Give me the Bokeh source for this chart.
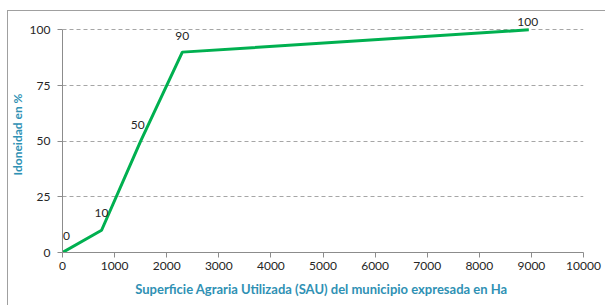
from bokeh.plotting import figure
from bokeh.models import ColumnDataSource, FixedTicker, Range1d
from bokeh.core.properties import value
from bokeh.embed import file_html
from bokeh.resources import INLINE

# data
sau_ha = [0, 750, 1500, 2300, 8950]
idoneidad = [0, 10, 50, 90, 100]
point_labels = ["0", "10", "50", "90", "100"]
x_ticks = [0, 1000, 2000, 3000, 4000, 5000, 6000, 7000, 8000, 9000, 10000]
y_ticks = [0, 25, 50, 75, 100]

x_title = "Superficie Agraria Utilizada (SAU) del municipio  expresada en Ha"
y_title = "Idoneidad en %"

FONT = "Lato"
TEAL = "#2f91b4"
GRAY = "#8c8c8c"

# label offsets (screen px, style only)
label_dx = [4, 0, -3, 0, -1]
label_dy = [-17, -17, -16, -16, -8]

src = ColumnDataSource(dict(x=sau_ha, y=idoneidad, lab=point_labels,
                            dx=label_dx, dy=label_dy))

bg = ("linear-gradient(#a0a0a0,#a0a0a0) 7px 10px / 1px 100% no-repeat, "
      "linear-gradient(#a0a0a0,#a0a0a0) 7px 10px / 100% 1px no-repeat, white")

p = figure(width=605, height=305, output_backend="svg", toolbar_location=None,
           x_range=Range1d(0, 10000), y_range=Range1d(0, 106),
           min_border_left=62, min_border_right=22, min_border_top=16,
           min_border_bottom=53, styles={"background": bg})
p.outline_line_color = None
p.border_fill_color = None
p.background_fill_color = "white"

p.line("x", "y", source=src, line_color="#00b050", line_width=3)
p.text("x", "y", text="lab", source=src, x_offset="dx", y_offset="dy",
       text_align="center", text_baseline="middle",
       text_font=value(FONT), text_font_size="12px", text_color="#262626")

p.xaxis.ticker = FixedTicker(ticks=x_ticks)
p.yaxis.ticker = FixedTicker(ticks=y_ticks)
p.yaxis.bounds = (0, 100)
p.xgrid.visible = False
p.ygrid.ticker = FixedTicker(ticks=[25, 50, 75, 100])
p.ygrid.grid_line_color = "#a6a6a6"
p.ygrid.grid_line_dash = "4 3"
p.ygrid.grid_line_width = 1

for ax in (p.xaxis, p.yaxis):
    ax.axis_line_color = GRAY
    ax.major_tick_line_color = GRAY
    ax.major_tick_out = 5
    ax.major_tick_in = 0
    ax.minor_tick_line_color = None
    ax.major_label_text_font = FONT
    ax.major_label_text_font_size = "12px"
    ax.major_label_text_color = "#262626"
    ax.axis_label_text_font = FONT
    ax.axis_label_text_font_style = "bold"
    ax.axis_label_text_color = TEAL
    ax.axis_label_text_font_size = "13px"

p.yaxis.axis_label_text_font_size = "12px"
p.xaxis.axis_label = x_title
p.yaxis.axis_label = y_title
p.xaxis.major_label_standoff = 4
p.yaxis.major_label_standoff = 7
p.xaxis.axis_label_standoff = 8
p.yaxis.axis_label_standoff = 2

open("out.html", "w").write(file_html(p, INLINE))
